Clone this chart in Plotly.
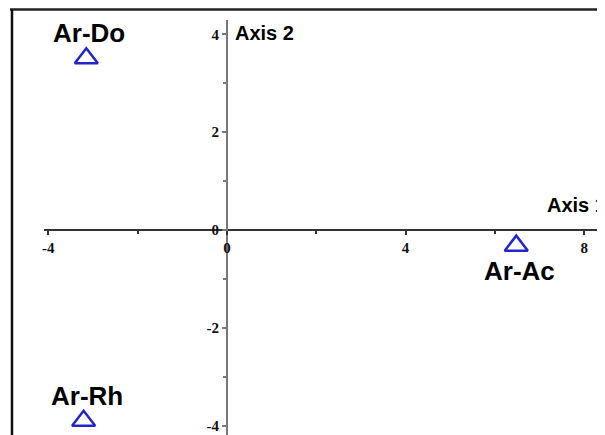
import plotly.graph_objects as go

# sample coordinates on the two principal axes
samples = ['Ar-Do', 'Ar-Ac', 'Ar-Rh']
axis1 = [-3.15, 6.48, -3.21]
axis2 = [3.51, -0.32, -3.90]
label_side = ['above', 'below', 'above']

x_major = [-4, 0, 4, 8]
y_major = [-4, -2, 0, 2, 4]
x_labels = ['-4', '0', '4', '8']
y_labels = ['-4', '-2', '0', '2', '4']

# the page body adds 8px around the figure, so size it to fill the 605x435 window
W, H = 597, 427
x_range = [-4.10, 8.467]
y_range = [-4.192, 4.294]
x_dom = [34 / W, 1]
y_dom = [0, 1 - 12 / H]

# where the zero of each axis falls in paper coordinates
x_pos = y_dom[0] + (0 - y_range[0]) / (y_range[1] - y_range[0]) * (y_dom[1] - y_dom[0])
y_pos = x_dom[0] + (0 - x_range[0]) / (x_range[1] - x_range[0]) * (x_dom[1] - x_dom[0])

tick_font = dict(family='Liberation Serif, serif', size=15, color='#111111')
label_font = dict(family='Liberation Sans', size=26, color='black', weight='bold')
axis_font = dict(family='Liberation Sans', size=20, color='black', weight='bold')

fig = go.Figure()
fig.add_trace(
    go.Scatter(
        x=axis1,
        y=axis2,
        mode='markers',
        marker=dict(
            symbol='triangle-up-open',
            size=20,
            color='#2424cc',
            line=dict(width=2.5, color='#2424cc')
        ),
        hovertext=samples,
        showlegend=False
    )
)

annotations = []
for name, xv, yv, side in zip(samples, axis1, axis2, label_side):
    annotations.append(dict(
        x=xv, y=yv, text=name, showarrow=False,
        xanchor='center', yanchor='middle',
        xshift=3, yshift=25 if side == 'above' else -25,
        font=label_font
    ))

annotations.append(dict(
    x=0, y=4.03, text='Axis 2', showarrow=False,
    xanchor='left', yanchor='middle', xshift=6, font=axis_font
))
annotations.append(dict(
    x=7.13, y=0, text='Axis 1', showarrow=False,
    xanchor='left', yanchor='middle', yshift=25, font=axis_font
))

fig.update_layout(
    width=W,
    height=H,
    margin=dict(l=0, r=0, t=0, b=0),
    plot_bgcolor='white',
    paper_bgcolor='white',
    annotations=annotations,
    xaxis=dict(
        range=x_range,
        domain=x_dom,
        anchor='free',
        position=x_pos,
        showgrid=False,
        zeroline=False,
        showline=True,
        linecolor='#333333',
        linewidth=1.5,
        tickvals=x_major,
        ticktext=['<b>' + t + '</b>' for t in x_labels],
        ticks='outside',
        ticklen=4,
        tickwidth=1.5,
        tickcolor='#333333',
        tickfont=tick_font,
        minor=dict(dtick=2, tick0=0, ticks='outside', ticklen=3, tickcolor='#333333', showgrid=False)
    ),
    yaxis=dict(
        range=y_range,
        domain=y_dom,
        anchor='free',
        position=y_pos,
        showgrid=False,
        zeroline=False,
        showline=True,
        linecolor='#777777',
        linewidth=2,
        tickvals=y_major,
        ticktext=['<b>' + t + '</b>' for t in y_labels],
        ticks='outside',
        ticklen=4,
        tickwidth=1.5,
        tickcolor='#777777',
        tickfont=tick_font,
        minor=dict(dtick=1, tick0=0, ticks='outside', ticklen=3, tickcolor='#777777', showgrid=False)
    ),
    shapes=[
        dict(type='line', xref='paper', yref='paper', x0=0, x1=1,
             y0=1 - 1.5 / H, y1=1 - 1.5 / H, line=dict(color='#222222', width=2.5)),
        dict(type='line', xref='paper', yref='paper', x0=2 / W, x1=2 / W,
             y0=0, y1=1 - 1.5 / H, line=dict(color='#111111', width=2.5)),
    ]
)

fig.write_html("out.html")
